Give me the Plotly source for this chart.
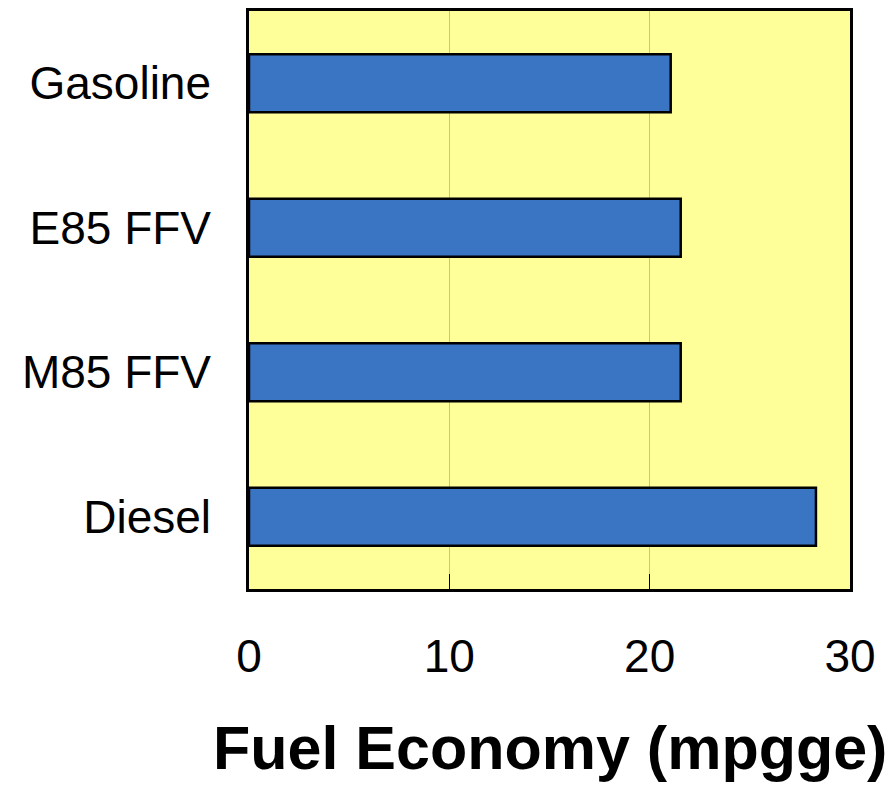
import plotly.graph_objects as go

# Fuel economy by vehicle type (miles per gallon gasoline equivalent)
fuels = ['Gasoline', 'E85 FFV', 'M85 FFV', 'Diesel']
mpgge = [21.05, 21.55, 21.55, 28.3]
x_ticks = [0, 10, 20, 30]
x_title = 'Fuel Economy (mpgge)'

colors = {
    'bar': '#3A75C4',
    'plot_bg': '#FFFF99',
    'grid': '#B8B8F4',
}

fig = go.Figure()

fig.add_trace(go.Bar(
    y=fuels,
    x=mpgge,
    orientation='h',
    width=0.4,
    marker={
        'color': colors['bar'],
        'line': {'width': 2.5, 'color': 'black'}
    },
    hovertemplate='<b>%{y}</b><br>%{x:.1f} mpgge<extra></extra>'
))

# Axis title as an annotation so it doesn't push the margins around
fig.add_annotation(
    text=x_title,
    xref='paper', yref='paper',
    x=0.5, y=-0.275,
    xanchor='center', yanchor='middle',
    showarrow=False,
    font=dict(size=61, weight='bold')
)

# page body adds an 8px margin, so the figure is offset to match the window
fig.update_layout(
    width=879,
    height=778,
    showlegend=False,
    margin=dict(l=241, r=37, t=3, b=197),
    paper_bgcolor='white',
    plot_bgcolor=colors['plot_bg'],
    font=dict(family='Liberation Sans, Arial, sans-serif', size=46, color='black'),
    xaxis=dict(
        range=[0, 30],
        tickvals=x_ticks,
        ticks='inside',
        ticklen=15,
        tickwidth=1,
        tickcolor='black',
        showgrid=True,
        gridcolor=colors['grid'],
        gridwidth=1,
        showline=True,
        linecolor='black',
        linewidth=2.5,
        mirror=True,
        zeroline=False,
        ticklabelstandoff=25,
        automargin=False,
        fixedrange=True
    ),
    yaxis=dict(
        categoryorder='array',
        categoryarray=fuels,
        autorange='reversed',
        showgrid=False,
        ticks='',
        showline=True,
        linecolor='black',
        linewidth=2.5,
        mirror=True,
        ticklabelstandoff=26,
        automargin=False,
        fixedrange=True
    ),
    bargap=0.6,
)

fig.write_html("out.html")
